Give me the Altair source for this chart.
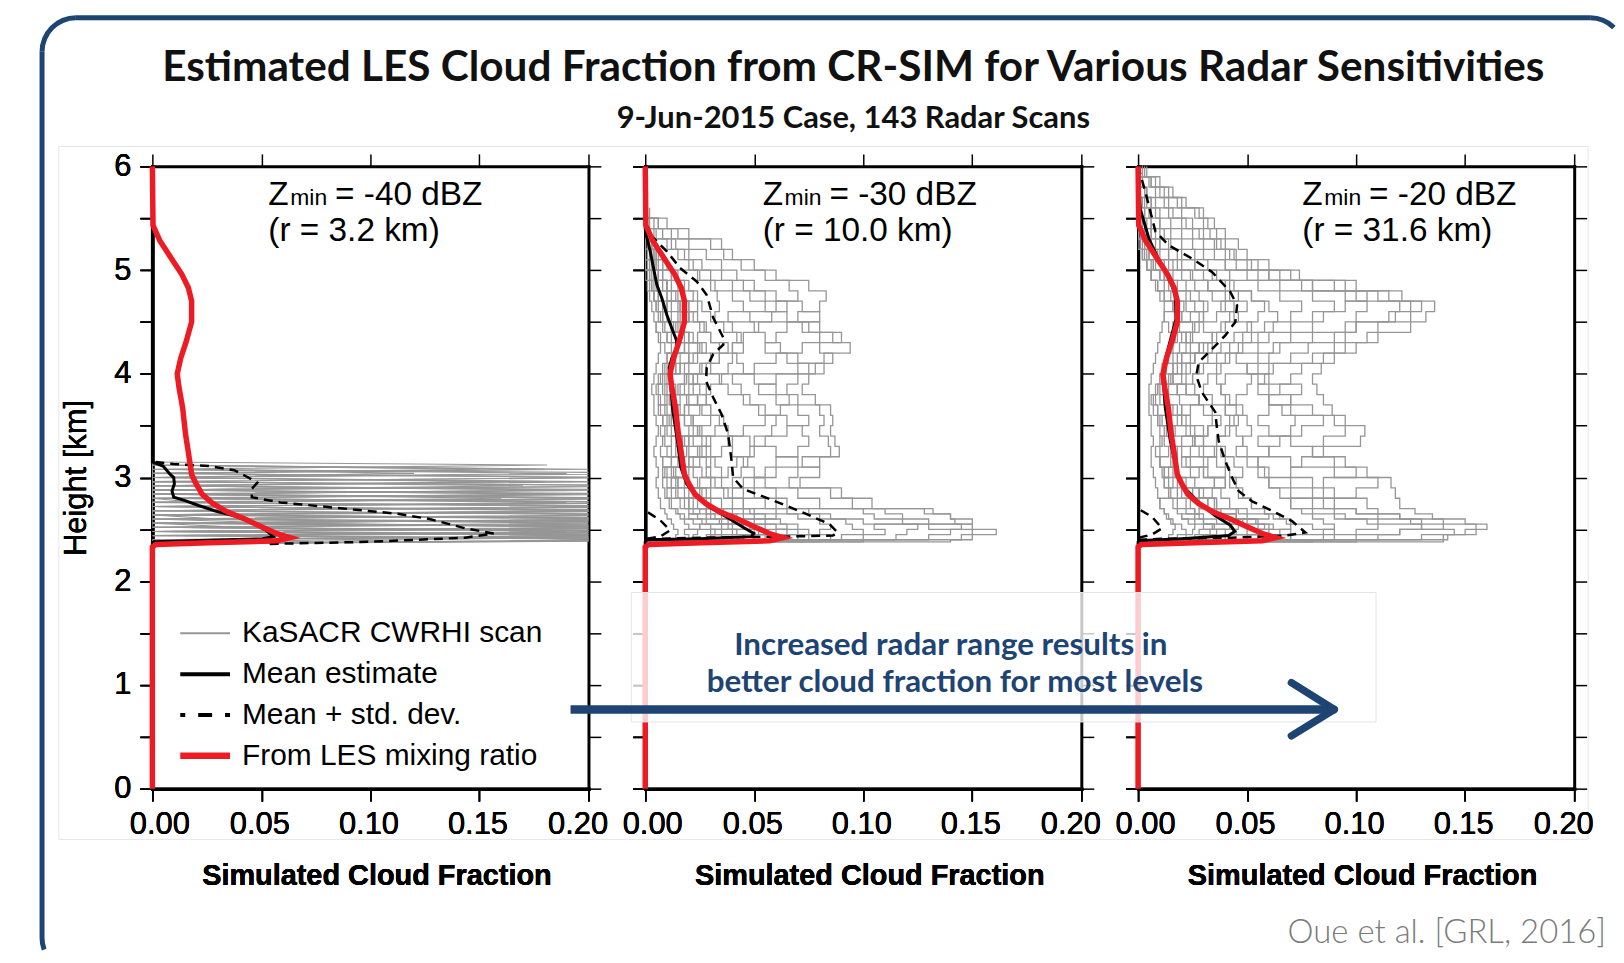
import altair as alt
import pandas as pd

# ---------------- values ----------------
x_ticks = [0.0, 0.05, 0.10, 0.15, 0.20]
y_ticks = [0.0, 0.5, 1.0, 1.5, 2.0, 2.5, 3.0, 3.5, 4.0, 4.5, 5.0, 5.5, 6.0]

title_text = "Estimated LES Cloud Fraction from CR-SIM for Various Radar Sensitivities"
subtitle_text = "9-Jun-2015 Case, 143 Radar Scans"
zmin_vals = ["-40", "-30", "-20"]
range_vals = ["3.2", "10.0", "31.6"]
legend_labels = ["KaSACR CWRHI scan", "Mean estimate", "Mean + std. dev.", "From LES mixing ratio"]
note_lines = ["Increased radar range results in", "better cloud fraction for most levels"]
citation = "Oue et al. [GRL, 2016]"
x_title = "Simulated Cloud Fraction"
y_title = "Height [km]"

# LES mixing-ratio cloud fraction (same curve in all three panels)
les_h = [0.0, 2.33, 2.355, 2.37, 2.39, 2.42, 2.46, 2.52, 2.60, 2.67, 2.75, 2.84, 2.94, 3.03, 3.23,
         3.42, 3.67, 3.87, 4.00, 4.15, 4.31, 4.50, 4.70, 4.83, 4.96, 5.12, 5.28, 5.43, 6.0]
les_v = [0.0, 0.0, 0.0016, 0.026, 0.057, 0.0632, 0.057, 0.0505, 0.0424, 0.0342, 0.0277, 0.0228, 0.020,
         0.018, 0.0166, 0.0152, 0.0139, 0.0122, 0.0114, 0.013, 0.0155, 0.018, 0.018, 0.0165, 0.0135,
         0.0085, 0.0035, 0.0003, 0.0]

# panel 1 (Zmin = -40 dBZ)
mean1_h = [0.0, 2.37, 2.38, 2.39, 2.41, 2.43, 2.49, 2.57, 2.63, 2.68, 2.73, 2.78, 2.81, 2.87, 2.94,
           3.00, 3.03, 3.11, 3.15, 6.0]
mean1_v = [0.0, 0.0, 0.0008, 0.0179, 0.0505, 0.0554, 0.0522, 0.0456, 0.0375, 0.0285, 0.0212, 0.0147,
           0.0098, 0.009, 0.0101, 0.0098, 0.0082, 0.0049, 0.0, 0.0]
dash1_h = [2.36, 2.38, 2.42, 2.46, 2.51, 2.60, 2.65, 2.71, 2.76, 2.81, 2.89, 2.95, 3.00, 3.07, 3.11,
           3.13, 3.15]
dash1_v = [0.0538, 0.0994, 0.1435, 0.1565, 0.1435, 0.1271, 0.1125, 0.0831, 0.0587, 0.0456, 0.0456,
           0.0481, 0.044, 0.0375, 0.026, 0.0098, 0.0016]

# panel 2 (Zmin = -30 dBZ)
mean2_h = [0.0, 2.38, 2.40, 2.41, 2.43, 2.46, 2.52, 2.62, 2.71, 2.81, 2.94, 3.10, 3.35, 3.67, 4.00,
           4.06, 4.15, 4.25, 4.33, 4.44, 4.57, 4.73, 4.86, 5.02, 5.18, 5.31, 5.40, 6.0]
mean2_v = [0.0, 0.0, 0.0008, 0.0251, 0.0487, 0.0498, 0.0449, 0.0373, 0.0297, 0.0236, 0.019, 0.0163,
           0.0148, 0.0125, 0.0112, 0.011, 0.0122, 0.0148, 0.0142, 0.0122, 0.0099, 0.0076, 0.0053,
           0.0038, 0.0023, 0.0008, 0.0, 0.0]
dash2_h = [2.40, 2.41, 2.42, 2.43, 2.44, 2.47, 2.55, 2.65, 2.78, 2.89, 3.00, 3.16, 3.42, 3.61, 3.77,
           3.93, 4.06, 4.19, 4.28, 4.35, 4.54, 4.76, 4.89, 5.02, 5.18, 5.31, 5.40]
dash2_v = [0.0008, 0.0068, 0.025, 0.063, 0.086, 0.0883, 0.0845, 0.0738, 0.0586, 0.0449, 0.0403,
           0.0396, 0.038, 0.035, 0.0312, 0.0279, 0.0282, 0.0312, 0.0358, 0.0358, 0.0312, 0.0282,
           0.0236, 0.016, 0.0099, 0.0038, 0.0]
dash2b_h = [2.41, 2.43, 2.49, 2.59, 2.68]
dash2b_v = [0.0008, 0.0068, 0.0114, 0.0068, 0.0]

# panel 3 (Zmin = -20 dBZ)
mean3_h = [0.0, 2.38, 2.39, 2.41, 2.44, 2.48, 2.54, 2.63, 2.76, 2.89, 2.98, 3.06, 3.35, 3.67, 3.99,
           4.18, 4.53, 4.76, 4.88, 5.10, 5.30, 5.59, 6.0]
mean3_v = [0.0, 0.0, 0.0003, 0.0202, 0.0416, 0.0443, 0.0423, 0.0354, 0.0278, 0.0217, 0.0186, 0.0179,
           0.0148, 0.0125, 0.0113, 0.013, 0.0174, 0.017, 0.015, 0.0095, 0.005, 0.001, 0.0]
dash3_h = [2.40, 2.41, 2.42, 2.44, 2.47, 2.58, 2.68, 2.77, 2.87, 3.00, 3.16, 3.35, 3.47, 3.63, 3.82,
           3.98, 4.11, 4.24, 4.37, 4.50, 4.66, 4.79, 4.98, 5.11, 5.24, 5.37, 5.50, 5.75, 6.0]
dash3_v = [0.0, 0.0125, 0.0431, 0.0675, 0.0767, 0.0706, 0.0614, 0.0523, 0.0461, 0.0431, 0.040, 0.037,
           0.0362, 0.0354, 0.0293, 0.0267, 0.0278, 0.034, 0.040, 0.0446, 0.0454, 0.0423, 0.034,
           0.0248, 0.014, 0.008, 0.0064, 0.0034, 0.0]
dash3b_h = [2.42, 2.45, 2.51, 2.62, 2.70]
dash3b_v = [0.0003, 0.0064, 0.011, 0.0064, 0.0]

# individual radar scans (a readable subset), cloud fraction in thousandths
scan1_h = [2.36, 2.40, 2.44, 2.48, 2.52, 2.56, 2.60, 2.64, 2.68, 2.72, 2.76, 2.80, 2.84, 2.88, 2.92,
           2.96, 3.00, 3.04, 3.08, 3.12, 3.15]
scan1_pm = [
    [0, 260, 15, 240, 0, 300, 30, 0, 210, 0, 250, 0, 0, 190, 0, 0, 220, 0, 0, 0, 0],
    [0, 20, 280, 0, 230, 10, 270, 0, 0, 240, 0, 0, 200, 0, 0, 160, 0, 0, 180, 0, 0],
    [0, 300, 0, 190, 40, 0, 260, 0, 230, 0, 0, 210, 0, 0, 240, 0, 0, 120, 0, 0, 0],
    [0, 0, 240, 60, 280, 0, 0, 250, 0, 200, 20, 0, 0, 230, 0, 0, 0, 260, 0, 181, 0],
    [0, 220, 50, 310, 0, 200, 0, 220, 0, 0, 260, 0, 180, 0, 0, 210, 0, 0, 0, 0, 0],
    [0, 80, 260, 0, 250, 0, 230, 20, 260, 0, 0, 230, 0, 0, 170, 0, 0, 0, 150, 0, 0],
    [0, 270, 0, 220, 0, 260, 0, 0, 240, 0, 190, 0, 240, 0, 0, 0, 200, 0, 0, 0, 0],
    [0, 0, 200, 0, 290, 30, 210, 0, 0, 270, 0, 160, 0, 0, 250, 0, 0, 0, 0, 0, 0],
    [0, 240, 30, 260, 0, 0, 280, 0, 200, 0, 230, 0, 0, 0, 0, 180, 0, 0, 200, 0, 0],
    [0, 120, 240, 0, 200, 60, 0, 260, 0, 0, 0, 250, 0, 200, 0, 0, 0, 190, 0, 0, 0],
]
scan2_h = [2.38, 2.40, 2.45, 2.50, 2.55, 2.60, 2.65, 2.70, 2.80, 2.90, 3.00, 3.10, 3.20, 3.30, 3.40,
           3.50, 3.60, 3.70, 3.80, 3.90, 4.00, 4.10, 4.20, 4.30, 4.40, 4.50, 4.60, 4.70, 4.80, 4.90,
           5.00, 5.10, 5.20, 5.30, 5.40, 5.50, 5.60]
scan2_pm = [
    [0, 140, 150, 161, 150, 142, 140, 128, 60, 50, 40, 44, 47, 50, 48, 22, 21, 20, 19, 18, 19, 78, 82, 94, 86, 75, 32, 34, 33, 30, 24, 5, 4, 3, 2, 0, 0],
    [0, 100, 130, 140, 145, 130, 118, 110, 95, 85, 66, 70, 80, 85, 84, 80, 82, 80, 70, 60, 50, 45, 42, 40, 44, 40, 38, 60, 70, 66, 55, 44, 36, 30, 15, 6, 0],
    [0, 60, 115, 120, 125, 118, 105, 100, 80, 70, 55, 50, 45, 40, 38, 45, 55, 62, 66, 65, 70, 75, 70, 62, 55, 50, 48, 45, 40, 32, 25, 20, 15, 10, 5, 2, 0],
    [0, 30, 90, 100, 95, 92, 85, 75, 65, 60, 50, 55, 60, 70, 75, 72, 65, 55, 48, 44, 40, 50, 60, 72, 80, 72, 65, 55, 48, 40, 30, 22, 18, 12, 4, 0, 0],
    [0, 20, 70, 80, 85, 80, 70, 65, 55, 45, 35, 38, 42, 48, 55, 58, 60, 52, 45, 38, 34, 30, 34, 40, 45, 52, 58, 65, 55, 45, 35, 26, 20, 14, 8, 4, 0],
    [0, 10, 60, 65, 60, 55, 50, 48, 40, 36, 30, 28, 30, 35, 40, 38, 34, 30, 28, 30, 35, 38, 40, 45, 42, 36, 30, 26, 24, 20, 15, 10, 6, 3, 0, 0, 0],
    [0, 5, 50, 52, 48, 44, 40, 36, 30, 26, 24, 22, 25, 28, 26, 24, 22, 25, 28, 25, 22, 26, 30, 34, 30, 27, 24, 20, 18, 15, 12, 8, 5, 2, 0, 0, 0],
    [0, 0, 40, 42, 38, 34, 30, 28, 24, 20, 18, 20, 18, 16, 18, 20, 18, 15, 14, 16, 18, 20, 22, 25, 22, 18, 15, 12, 10, 8, 6, 4, 2, 0, 0, 0, 0],
    [0, 0, 30, 32, 30, 26, 24, 20, 16, 14, 12, 14, 12, 10, 12, 14, 12, 10, 9, 10, 12, 14, 16, 18, 16, 13, 10, 8, 6, 5, 4, 2, 0, 0, 0, 0, 0],
    [0, 0, 22, 24, 20, 18, 16, 14, 11, 9, 8, 9, 8, 7, 8, 9, 8, 7, 6, 6, 7, 8, 10, 12, 10, 8, 6, 5, 4, 3, 2, 0, 0, 0, 0, 0, 0],
    [0, 0, 14, 15, 13, 12, 10, 9, 7, 6, 5, 6, 5, 4, 5, 6, 5, 4, 4, 3, 4, 5, 6, 7, 6, 5, 4, 3, 2, 1, 0, 0, 0, 0, 0, 0, 0],
    [0, 80, 145, 150, 130, 100, 80, 60, 45, 40, 45, 60, 70, 60, 50, 65, 75, 70, 60, 52, 60, 70, 86, 80, 90, 80, 70, 80, 83, 75, 60, 50, 40, 35, 20, 10, 2],
    [0, 40, 100, 110, 105, 150, 140, 132, 104, 90, 71, 80, 72, 89, 87, 85, 86, 85, 78, 72, 75, 82, 65, 55, 60, 65, 80, 72, 60, 50, 42, 35, 28, 20, 12, 6, 0],
    [0, 15, 55, 35, 25, 40, 60, 45, 20, 28, 15, 10, 20, 30, 22, 12, 8, 18, 24, 14, 10, 16, 24, 28, 20, 14, 20, 16, 12, 10, 8, 5, 3, 1, 0, 0, 0],
    [0, 5, 60, 70, 55, 50, 42, 35, 30, 22, 25, 30, 28, 20, 18, 24, 30, 26, 20, 15, 18, 25, 30, 26, 20, 15, 12, 10, 14, 10, 6, 3, 0, 0, 0, 0, 0],
    [0, 12, 75, 60, 65, 45, 35, 40, 28, 15, 12, 18, 22, 26, 30, 25, 18, 12, 16, 22, 20, 14, 10, 18, 24, 28, 22, 16, 10, 6, 4, 2, 1, 0, 0, 0, 0],
    [0, 0, 45, 55, 50, 40, 45, 30, 20, 25, 30, 35, 32, 25, 20, 15, 12, 18, 24, 28, 22, 18, 20, 14, 10, 16, 20, 24, 18, 12, 8, 6, 4, 2, 0, 0, 0],
    [0, 8, 35, 30, 40, 35, 28, 22, 18, 12, 10, 8, 12, 16, 14, 10, 8, 6, 10, 12, 9, 10, 14, 20, 16, 12, 8, 10, 6, 4, 3, 1, 0, 0, 0, 0, 0],
    [0, 25, 85, 75, 70, 62, 55, 50, 45, 38, 32, 26, 20, 24, 28, 32, 36, 30, 24, 20, 24, 28, 34, 38, 30, 25, 20, 15, 22, 18, 12, 8, 5, 3, 1, 0, 0],
    [0, 0, 20, 18, 25, 22, 18, 15, 12, 10, 14, 18, 15, 12, 9, 7, 10, 13, 11, 8, 6, 9, 12, 15, 12, 9, 7, 5, 4, 3, 2, 0, 0, 0, 0, 0, 0],
    [0, 3, 65, 50, 35, 28, 20, 25, 35, 30, 20, 12, 8, 14, 20, 26, 22, 16, 12, 9, 12, 16, 20, 24, 18, 12, 16, 20, 15, 10, 6, 4, 2, 0, 0, 0, 0],
    [0, 0, 28, 40, 45, 38, 32, 28, 22, 18, 15, 13, 16, 19, 17, 14, 11, 9, 7, 5, 8, 11, 13, 9, 7, 5, 8, 6, 4, 2, 1, 0, 0, 0, 0, 0, 0],
]
scan3_h = [2.38, 2.40, 2.45, 2.50, 2.55, 2.60, 2.65, 2.70, 2.80, 2.90, 3.00, 3.10, 3.20, 3.30, 3.40,
           3.50, 3.60, 3.70, 3.80, 3.90, 4.00, 4.10, 4.20, 4.30, 4.40, 4.50, 4.60, 4.70, 4.80, 4.90,
           5.00, 5.10, 5.20, 5.30, 5.40, 5.50, 5.60, 5.70, 5.80, 5.90, 6.00]
scan3_pm = [
    [0, 140, 142, 150, 155, 140, 120, 100, 80, 70, 60, 55, 50, 45, 48, 52, 50, 45, 40, 38, 40, 60, 80, 95, 110, 125, 132, 136, 121, 90, 60, 40, 30, 25, 20, 15, 10, 6, 3, 0, 0],
    [0, 100, 130, 155, 160, 150, 135, 127, 120, 118, 116, 105, 90, 80, 85, 95, 90, 80, 70, 60, 55, 50, 55, 65, 80, 100, 118, 125, 110, 100, 74, 60, 50, 46, 40, 35, 30, 22, 16, 10, 4],
    [0, 60, 110, 120, 130, 125, 110, 100, 90, 85, 80, 70, 75, 85, 102, 104, 95, 89, 85, 82, 80, 84, 90, 100, 105, 110, 115, 120, 100, 80, 60, 50, 42, 35, 28, 22, 16, 12, 8, 5, 2],
    [0, 30, 90, 100, 110, 105, 95, 90, 85, 80, 70, 60, 55, 60, 65, 70, 72, 66, 60, 55, 58, 62, 70, 78, 90, 95, 100, 105, 95, 75, 55, 45, 40, 36, 33, 30, 26, 18, 12, 6, 0],
    [0, 20, 70, 85, 90, 85, 80, 75, 70, 65, 60, 58, 55, 50, 48, 45, 42, 40, 45, 50, 52, 55, 60, 62, 70, 80, 85, 90, 80, 65, 50, 40, 35, 30, 25, 20, 14, 8, 4, 2, 0],
    [0, 10, 60, 65, 70, 68, 62, 58, 52, 48, 45, 42, 40, 38, 36, 40, 44, 48, 42, 38, 36, 38, 42, 48, 55, 62, 70, 75, 65, 55, 42, 32, 26, 20, 15, 10, 6, 3, 0, 0, 0],
    [0, 5, 50, 55, 58, 54, 50, 46, 42, 38, 35, 32, 30, 28, 30, 32, 34, 30, 28, 26, 25, 28, 32, 38, 44, 50, 55, 58, 52, 42, 34, 26, 20, 15, 10, 6, 3, 0, 0, 0, 0],
    [0, 0, 40, 44, 46, 42, 38, 35, 32, 28, 26, 24, 22, 24, 26, 24, 22, 20, 19, 18, 20, 22, 26, 30, 34, 38, 42, 44, 40, 32, 25, 18, 14, 10, 6, 3, 0, 0, 0, 0, 0],
    [0, 0, 30, 33, 34, 30, 28, 26, 24, 20, 18, 17, 16, 15, 16, 17, 15, 14, 13, 14, 15, 16, 18, 22, 25, 28, 30, 32, 28, 22, 16, 12, 8, 5, 3, 0, 0, 0, 0, 0, 0],
    [0, 0, 22, 25, 26, 23, 20, 18, 16, 14, 12, 11, 10, 10, 11, 10, 9, 9, 8, 9, 10, 11, 13, 15, 17, 19, 20, 21, 18, 14, 10, 7, 4, 2, 0, 0, 0, 0, 0, 0, 0],
    [0, 0, 14, 16, 17, 15, 13, 12, 10, 9, 8, 7, 6, 6, 7, 6, 6, 5, 5, 5, 6, 7, 8, 9, 10, 11, 12, 12, 10, 8, 6, 4, 2, 0, 0, 0, 0, 0, 0, 0, 0],
    [0, 80, 140, 145, 130, 110, 90, 80, 70, 100, 110, 90, 70, 60, 55, 75, 85, 70, 60, 65, 70, 75, 85, 90, 95, 100, 125, 130, 115, 95, 70, 55, 45, 40, 36, 32, 28, 20, 14, 8, 3],
    [0, 40, 100, 120, 140, 130, 120, 110, 105, 90, 85, 100, 95, 80, 70, 60, 55, 60, 70, 75, 60, 50, 45, 55, 60, 70, 80, 95, 105, 80, 65, 52, 44, 38, 30, 25, 20, 14, 10, 6, 2],
    [0, 15, 55, 40, 30, 45, 60, 50, 35, 25, 40, 30, 20, 35, 25, 15, 10, 20, 28, 18, 12, 18, 26, 34, 24, 16, 28, 22, 15, 12, 10, 7, 5, 3, 1, 0, 0, 0, 0, 0, 0],
    [0, 5, 55, 70, 60, 50, 45, 38, 32, 28, 35, 40, 36, 30, 26, 32, 38, 34, 28, 22, 25, 30, 36, 42, 48, 52, 44, 38, 46, 40, 30, 20, 14, 10, 8, 6, 5, 4, 3, 1, 0],
    [0, 12, 70, 60, 55, 48, 40, 45, 36, 25, 20, 28, 32, 36, 30, 22, 18, 24, 28, 22, 16, 20, 26, 32, 36, 40, 46, 50, 42, 32, 24, 16, 10, 8, 6, 4, 3, 2, 0, 0, 0],
    [0, 0, 40, 50, 62, 55, 45, 36, 28, 34, 40, 30, 24, 20, 26, 30, 24, 18, 14, 18, 22, 24, 20, 28, 34, 30, 36, 40, 34, 26, 20, 14, 9, 6, 4, 2, 1, 0, 0, 0, 0],
    [0, 8, 30, 28, 35, 30, 26, 22, 18, 15, 12, 14, 18, 15, 12, 16, 20, 16, 12, 10, 14, 16, 20, 24, 20, 26, 30, 26, 22, 16, 12, 8, 5, 3, 2, 1, 0, 0, 0, 0, 0],
    [0, 25, 85, 90, 80, 70, 65, 58, 52, 46, 42, 48, 44, 40, 36, 42, 46, 40, 34, 30, 32, 36, 40, 46, 52, 58, 64, 60, 52, 44, 36, 26, 18, 14, 12, 10, 8, 6, 4, 2, 0],
    [0, 0, 18, 22, 20, 16, 14, 12, 10, 14, 16, 12, 10, 8, 10, 12, 9, 7, 6, 8, 10, 12, 14, 16, 18, 14, 12, 16, 12, 9, 6, 4, 2, 1, 0, 0, 0, 0, 0, 0, 0],
    [0, 3, 60, 45, 35, 26, 20, 28, 36, 30, 22, 16, 10, 14, 20, 26, 20, 14, 10, 12, 16, 20, 24, 28, 22, 18, 24, 30, 24, 18, 12, 6, 3, 2, 1, 0, 0, 0, 0, 0, 0],
    [0, 0, 26, 36, 42, 36, 30, 26, 22, 18, 14, 12, 15, 18, 16, 13, 11, 9, 7, 9, 11, 13, 16, 19, 22, 25, 20, 16, 12, 9, 6, 4, 2, 1, 0, 0, 0, 0, 0, 0, 0],
]


# ---------------- tables ----------------
def curve_df(*segments):
    rows = []
    for g, (hs, vs) in enumerate(segments):
        for h, v in zip(hs, vs):
            rows.append({"g": g, "h": h, "v": v})
    return pd.DataFrame(rows)


def scans_df(levels, profiles_pm):
    rows = []
    for g, prof in enumerate(profiles_pm):
        for h, v in zip(levels, prof):
            rows.append({"g": g, "h": h, "v": v / 1000.0})
    return pd.DataFrame(rows)


les_df = curve_df((les_h, les_v))
panels_data = [
    dict(scans=scans_df(scan1_h, scan1_pm), interp="linear", gw=1.1,
         mean=curve_df((mean1_h, mean1_v)), dash=curve_df((dash1_h, dash1_v))),
    dict(scans=scans_df(scan2_h, scan2_pm), interp="step-after", gw=1.3,
         mean=curve_df((mean2_h, mean2_v)), dash=curve_df((dash2_h, dash2_v), (dash2b_h, dash2b_v))),
    dict(scans=scans_df(scan3_h, scan3_pm), interp="step-after", gw=1.3,
         mean=curve_df((mean3_h, mean3_v)), dash=curve_df((dash3_h, dash3_v), (dash3b_h, dash3b_v))),
]

# ---------------- styling ----------------
W, H = 438, 625
FONT = "Liberation Sans"
BLUE = "#1d4473"
RED = "#ed1c24"
GRAY = "#969696"
XS = alt.Scale(domain=[0, 0.2], nice=False, zero=False)
YS = alt.Scale(domain=[0, 6], nice=False, zero=False)
ONE = pd.DataFrame({"k": [0]})


def axis(**kw):
    base = dict(domainColor="black", domainWidth=3, domainCap="square", tickColor="black",
                tickWidth=1.5, tickSize=12.5, grid=False, labelFont=FONT, labelColor="black",
                labelFontSize=31, labelFlush=False, labelOverlap=False, titleFont=FONT,
                titleColor="black")
    base.update(kw)
    return alt.Axis(**base)


x_label_offset = {
    "condition": [
        {"test": "datum.value < 0.001", "value": 7},
        {"test": "datum.value > 0.199", "value": -11},
    ],
    "value": -2,
}
x_bottom = axis(orient="bottom", values=x_ticks, format=".2f", labelPadding=8.5, title=x_title,
                titleFontSize=29, titleFontWeight="bold", titlePadding=22, titleX=W / 2 + 6,
                labelOffset=x_label_offset)
x_top = axis(orient="top", values=x_ticks, labels=False, title="")
y_left_lab = axis(orient="left", values=y_ticks,
                  labelExpr="datum.value % 1 === 0 ? format(datum.value, 'd') : ''", labelPadding=9,
                  title=y_title, titleFontSize=31, titleFontWeight="normal", titlePadding=21)
y_left_plain = axis(orient="left", values=y_ticks, labels=False, title="")
y_right = axis(orient="right", values=y_ticks, labels=False, title="")


def txt(s, x, y, size, color="black", font=FONT, weight="normal", align="left", baseline="alphabetic"):
    return alt.Chart(ONE).mark_text(text=s, font=font, fontSize=size, fontWeight=weight, color=color,
                                    align=align, baseline=baseline).encode(x=alt.value(x), y=alt.value(y))


def rule(x, x2, y, y2, color, w, cap="butt", dash=None, offset=None):
    kw = dict(color=color, strokeWidth=w, strokeCap=cap)
    if dash is not None:
        kw["strokeDash"] = dash
    if offset is not None:
        kw["strokeDashOffset"] = offset
    return alt.Chart(ONE).mark_rule(**kw).encode(x=alt.value(x), x2=alt.value(x2),
                                                 y=alt.value(y), y2=alt.value(y2))


def arc(cx, cy, t0, t1, r=34, sw=5):
    return alt.Chart(ONE).mark_arc(color=BLUE, radius=r + sw / 2, radius2=r - sw / 2,
                                   theta=t0, theta2=t1).encode(x=alt.value(cx), y=alt.value(cy))


def data_layers(i):
    d = panels_data[i]
    yax = y_left_lab if i == 0 else y_left_plain

    def enc():
        return dict(x=alt.X("v:Q", scale=XS, axis=x_bottom), y=alt.Y("h:Q", scale=YS, axis=yax),
                    detail="g:N", order=alt.Order("h:Q"))

    gray = alt.Chart(d["scans"]).mark_line(color=GRAY, strokeWidth=d["gw"], clip=True,
                                           interpolate=d["interp"]).encode(**enc())
    dash = alt.Chart(d["dash"]).mark_line(color="black", strokeWidth=2.5,
                                          strokeDash=[9, 6]).encode(**enc())
    mean = alt.Chart(d["mean"]).mark_line(color="black", strokeWidth=3).encode(**enc())
    red = alt.Chart(les_df).mark_line(color=RED, strokeWidth=5.5).encode(**enc())
    frame = alt.Chart(les_df).mark_line(strokeOpacity=0).encode(
        x=alt.X("v:Q", scale=XS, axis=x_top), y=alt.Y("h:Q", scale=YS, axis=y_right),
        detail="g:N", order=alt.Order("h:Q"))
    return [gray, dash, mean, red, frame]


def zlabel(i, x0):
    return [
        txt("Z", x0, 39, 33.5),
        txt("min", x0 + 22, 39, 23),
        txt("= " + zmin_vals[i] + " dBZ", x0 + 67, 39, 33.5),
        txt("(r = " + range_vals[i] + " km)", x0, 75, 33.5),
    ]


# ---- panel 1: page frame, titles, legend ----
p1_layers = [
    alt.Chart(ONE).mark_rect(fillOpacity=0, stroke="#e6e6e6", strokeWidth=1).encode(
        x=alt.value(-94), x2=alt.value(1442), y=alt.value(-20), y2=alt.value(676)),
    rule(-110.8, -110.8, -115.2, 775, BLUE, 5),
    rule(-76.8, 1444, -149.2, -149.2, BLUE, 5),
    arc(-76.8, -115.2, 4.7124, 6.2832),
    arc(1444, -115.2, 0.0, 0.78),
    arc(-76.8, 775, 4.36, 4.7124),
    txt(title_text, 704, -86, 42.5, font="Lato", weight="bold", align="center", color="#111111"),
    txt(subtitle_text, 704, -39, 31, font="Lato", weight="bold", align="center", color="#111111"),
] + data_layers(0) + zlabel(0, 116.5)

legend_rows = [469, 510, 551, 592]
p1_layers += [
    rule(28, 78, legend_rows[0], legend_rows[0], GRAY, 2),
    rule(28, 78, legend_rows[1], legend_rows[1], "black", 4),
    rule(28, 78, legend_rows[2], legend_rows[2], "black", 4, dash=[14, 13], offset=9),
    rule(28, 78, legend_rows[3], legend_rows[3], RED, 6.5),
]
p1_layers += [txt(lab, 90, y, 30, baseline="middle") for lab, y in zip(legend_labels, legend_rows)]

p2_layers = data_layers(1) + zlabel(1, 118)

p3_layers = data_layers(2) + zlabel(2, 165) + [
    alt.Chart(ONE).mark_rect(fill="white", fillOpacity=0.78, stroke="#e4e4e4", strokeWidth=1).encode(
        x=alt.value(-509), x2=alt.value(239), y=alt.value(428), y2=alt.value(558)),
    txt(note_lines[0], -188, 490.5, 31.5, color=BLUE, font="Lato", weight="bold", align="center"),
    txt(note_lines[1], -184, 527.5, 31.5, color=BLUE, font="Lato", weight="bold", align="center"),
    rule(-570, 195, 545.5, 545.5, BLUE, 8.5),
    rule(154, 197, 518.5, 545.5, BLUE, 7.5, cap="round"),
    rule(154, 197, 572, 545.5, BLUE, 7.5, cap="round"),
    txt(citation, 470, 780, 33, color="#7b7b7b", font="Lato", weight=300, align="right"),
]

p1 = alt.layer(*p1_layers).properties(width=W, height=H)
p2 = alt.layer(*p2_layers).properties(width=W, height=H)
p3 = alt.layer(*p3_layers).properties(width=W, height=H)

chart = alt.hconcat(p1, p2, p3, spacing=57, bounds="flush").properties(
    padding={"left": 31, "top": 5, "right": 0, "bottom": 0},
    background="white",
).configure_view(strokeWidth=0)

chart.save("out.html", embed_options={"renderer": "svg", "actions": False})
